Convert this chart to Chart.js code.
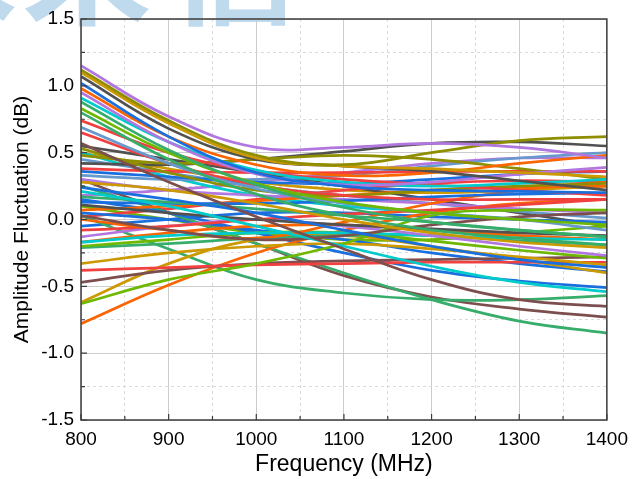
<!DOCTYPE html>
<html>
<head>
<meta charset="utf-8">
<script src="https://cdn.jsdelivr.net/npm/chart.js@4/dist/chart.umd.min.js"></script>
<style>
  body { margin: 0; background: #fff; }
  #wrap { position: relative; width: 636px; height: 479px; overflow: hidden; }
  .wm { position: absolute; font-family: 'Noto Sans CJK SC'; font-weight: bold; font-size: 130px; line-height: 1; color: #bfd9ed; }
  #box { position: absolute; left: 0; top: 0; width: 636px; height: 479px; }
</style>
</head>
<body>
<div id="wrap">
  <span class="wm" style="left:-112px;top:-108px">未</span>
  <span class="wm" style="left:22px;top:-108px">来</span>
  <span class="wm" style="left:168px;top:-108px">信</span>
  <div id="box"><canvas id="chart"></canvas></div>
</div>
<script>
var freqs = [800, 900, 1000, 1100, 1200, 1300, 1400];
var xTickValues = [800, 900, 1000, 1100, 1200, 1300, 1400];
var yTickValues = [-1.5, -1.0, -0.5, 0.0, 0.5, 1.0, 1.5];

// amplitude fluctuation (dB) of each channel, read at the freqs above
var curves = [
    [1.15, 0.77, 0.54, 0.54, 0.57, 0.54, 0.46],
    [1.12, 0.74, 0.48, 0.41, 0.50, 0.59, 0.62],
    [1.10, 0.72, 0.46, 0.40, 0.38, 0.35, 0.32],
    [1.07, 0.68, 0.45, 0.40, 0.36, 0.29, 0.22],
    [1.02, 0.62, 0.35, 0.25, 0.22, 0.21, 0.20],
    [0.98, 0.62, 0.41, 0.33, 0.35, 0.42, 0.48],
    [0.95, 0.58, 0.34, 0.26, 0.28, 0.34, 0.39],
    [0.91, 0.58, 0.37, 0.28, 0.25, 0.27, 0.30],
    [0.88, 0.52, 0.26, 0.09, -0.02, -0.08, -0.13],
    [0.83, 0.50, 0.27, 0.13, 0.05, 0.00, -0.04],
    [0.80, 0.45, 0.19, 0.03, -0.08, -0.14, -0.19],
    [0.74, 0.50, 0.36, 0.30, 0.26, 0.22, 0.18],
    [0.69, 0.42, 0.23, 0.12, 0.05, 0.00, -0.08],
    [0.65, 0.42, 0.26, 0.18, 0.15, 0.15, 0.15],
    [0.57, 0.28, 0.02, -0.22, -0.45, -0.60, -0.65],
    [0.53, 0.35, 0.22, 0.18, 0.22, 0.25, 0.27],
    [0.48, 0.42, 0.45, 0.48, 0.45, 0.38, 0.30],
    [0.42, 0.41, 0.45, 0.51, 0.57, 0.58, 0.55],
    [0.38, 0.36, 0.35, 0.35, 0.36, 0.36, 0.36],
    [0.36, 0.32, 0.28, 0.27, 0.30, 0.34, 0.36],
    [0.33, 0.30, 0.30, 0.33, 0.40, 0.46, 0.50],
    [0.28, 0.22, 0.12, 0.00, -0.10, -0.17, -0.21],
    [0.24, 0.15, 0.05, -0.08, -0.20, -0.30, -0.36],
    [0.21, 0.10, -0.05, -0.20, -0.35, -0.47, -0.54],
    [0.17, 0.13, 0.08, 0.03, -0.02, -0.08, -0.13],
    [0.13, 0.12, 0.12, 0.14, 0.17, 0.19, 0.20],
    [0.11, 0.05, 0.00, -0.04, -0.07, -0.10, -0.12],
    [0.07, 0.10, 0.14, 0.18, 0.22, 0.24, 0.25],
    [0.03, -0.08, -0.15, -0.12, -0.04, 0.02, 0.05],
    [0.00, -0.08, -0.14, -0.02, 0.12, 0.22, 0.28],
    [-0.63, -0.45, -0.33, -0.18, 0.03, 0.07, 0.07],
    [-0.08, -0.05, 0.00, 0.04, 0.07, 0.11, 0.15],
    [-0.13, -0.05, 0.00, -0.05, -0.12, -0.20, -0.27],
    [0.30, 0.22, 0.18, 0.15, 0.12, 0.08, 0.05],
    [-0.17, -0.12, -0.10, -0.10, -0.12, -0.14, -0.15],
    [-0.20, -0.15, -0.10, -0.10, -0.16, -0.23, -0.29],
    [-0.17, -0.10, -0.05, -0.04, -0.08, -0.12, -0.15],
    [-0.21, -0.18, -0.14, -0.12, -0.12, -0.16, -0.19],
    [-0.33, -0.25, -0.20, -0.18, -0.22, -0.28, -0.34],
    [-0.38, -0.36, -0.34, -0.33, -0.32, -0.32, -0.32],
    [-0.47, -0.38, -0.33, -0.31, -0.30, -0.29, -0.28],
    [-0.62, -0.33, -0.15, -0.12, -0.20, -0.30, -0.40],
    [-0.78, -0.49, -0.25, -0.08, 0.05, 0.12, 0.15],
    [0.15, 0.05, -0.10, -0.25, -0.38, -0.46, -0.51],
    [0.25, 0.05, -0.18, -0.40, -0.60, -0.76, -0.85],
    [0.03, -0.22, -0.45, -0.55, -0.60, -0.60, -0.57],
    [0.30, 0.05, -0.18, -0.42, -0.58, -0.67, -0.73],
    [0.05, 0.00, -0.08, -0.15, -0.25, -0.33, -0.39],
    [0.45, 0.35, 0.25, 0.18, 0.12, 0.06, 0.01],
    [-0.05, 0.00, 0.05, 0.05, 0.02, 0.00, -0.02],
    [0.50, 0.32, 0.18, 0.10, 0.05, 0.00, -0.03],
    [0.18, 0.22, 0.28, 0.35, 0.42, 0.46, 0.46],
    [0.02, 0.08, 0.15, 0.22, 0.27, 0.29, 0.28],
    [0.10, 0.00, -0.10, -0.15, -0.15, -0.10, -0.05],
    [0.55, 0.45, 0.35, 0.25, 0.15, 0.05, -0.05],
    [0.50, 0.38, 0.28, 0.22, 0.20, 0.22, 0.25]
];

var curveColors = [
    '#B177DE', '#8E8E00', '#CC9900', '#515151', '#1A6FDF', '#FB6501', '#B177DE', '#00CBCC',
    '#37AD6B', '#6FB802', '#37AD6B', '#F14040', '#6699CC', '#F14040', '#7D4E4E', '#8E8E00',
    '#8E8E00', '#515151', '#F14040', '#1A6FDF', '#6699CC', '#CC9900', '#1A6FDF', '#00CBCC',
    '#37AD6B', '#1A6FDF', '#515151', '#FB6501', '#7D4E4E', '#FB6501', '#6FB802', '#F14040',
    '#B177DE', '#B177DE', '#00CBCC', '#6FB802', '#FB6501', '#37AD6B', '#CC9900', '#F14040',
    '#7D4E4E', '#CC9900', '#FB6501', '#1A6FDF', '#37AD6B', '#37AD6B', '#7D4E4E', '#1A6FDF',
    '#6699CC', '#1A6FDF', '#00CBCC', '#B177DE', '#F14040', '#6FB802', '#515151', '#CC9900'
];

function isMajor(v, step) {
    return Math.abs(v / step - Math.round(v / step)) < 1e-6;
}

var datasets = curves.map(function (vals, i) {
    return {
        label: 'ch' + (i + 1),
        data: vals.map(function (v, j) { return { x: freqs[j], y: v }; }),
        borderColor: curveColors[i],
        backgroundColor: curveColors[i],
        borderWidth: 2.7,
        tension: 0.4,
        pointRadius: 0,
        fill: false
    };
});

// frame on all four sides plus inward ticks
var framePlugin = {
    id: 'frame',
    afterDatasetsDraw: function (chart) {
        var ctx = chart.ctx, a = chart.chartArea;
        var xs = chart.scales.x, ys = chart.scales.y;
        ctx.save();
        ctx.strokeStyle = '#3c3c3c';
        ctx.lineWidth = 1.5;
        ctx.strokeRect(a.left, a.top, a.right - a.left, a.bottom - a.top);
        ctx.lineWidth = 1.2;
        ctx.beginPath();
        xs.ticks.forEach(function (t) {
            var px = xs.getPixelForValue(t.value);
            var len = isMajor(t.value, 100) ? 6 : 4;
            ctx.moveTo(px, a.bottom);
            ctx.lineTo(px, a.bottom - len);
        });
        ys.ticks.forEach(function (t) {
            var py = ys.getPixelForValue(t.value);
            var len = isMajor(t.value, 0.5) ? 6 : 4;
            ctx.moveTo(a.left, py);
            ctx.lineTo(a.left + len, py);
        });
        ctx.stroke();
        ctx.restore();
    }
};

var tickFont = { family: "'Liberation Sans', Arial, sans-serif", size: 19 };

new Chart(document.getElementById('chart'), {
    type: 'line',
    data: { datasets: datasets },
    options: {
        responsive: true,
        maintainAspectRatio: false,
        animation: false,
        layout: { padding: { top: 19, right: 29, left: 0, bottom: 0 } },
        plugins: { legend: { display: false }, tooltip: { enabled: false } },
        scales: {
            x: {
                type: 'linear',
                min: xTickValues[0],
                max: xTickValues[xTickValues.length - 1],
                grid: {
                    drawTicks: false,
                    lineWidth: 1,
                    color: function (c) { return c.tick && isMajor(c.tick.value, 100) ? '#cccccc' : '#dadada'; }
                },
                border: {
                    display: false,
                    dash: function (c) { return c.tick && !isMajor(c.tick.value, 100) ? [3, 3] : []; }
                },
                ticks: {
                    stepSize: 50,
                    maxTicksLimit: 100,
                    autoSkip: false,
                    maxRotation: 0,
                    padding: 8,
                    color: '#000',
                    font: tickFont,
                    callback: function (v) { return xTickValues.indexOf(v) >= 0 ? String(v) : ''; }
                },
                title: {
                    display: true,
                    text: 'Frequency (MHz)',
                    color: '#000',
                    font: { family: "'Liberation Sans', Arial, sans-serif", size: 23 },
                    padding: { top: 0, bottom: 1 }
                },
                afterFit: function (s) { s.height = 59; }
            },
            y: {
                min: yTickValues[0],
                max: yTickValues[yTickValues.length - 1],
                grid: {
                    drawTicks: false,
                    lineWidth: 1,
                    color: function (c) { return c.tick && isMajor(c.tick.value, 0.5) ? '#cccccc' : '#dadada'; }
                },
                border: {
                    display: false,
                    dash: function (c) { return c.tick && !isMajor(c.tick.value, 0.5) ? [3, 3] : []; }
                },
                ticks: {
                    stepSize: 0.25,
                    maxTicksLimit: 100,
                    autoSkip: false,
                    padding: 7,
                    color: '#000',
                    font: tickFont,
                    callback: function (v) {
                        for (var i = 0; i < yTickValues.length; i++) {
                            if (Math.abs(yTickValues[i] - v) < 1e-6) return yTickValues[i].toFixed(1);
                        }
                        return '';
                    }
                },
                title: {
                    display: true,
                    text: 'Amplitude Fluctuation (dB)',
                    color: '#000',
                    font: { family: "'Liberation Sans', Arial, sans-serif", size: 21 },
                    padding: { top: 10, bottom: 0 }
                },
                afterFit: function (s) { s.width = 81; }
            }
        }
    },
    plugins: [framePlugin]
});
</script>
</body>
</html>
